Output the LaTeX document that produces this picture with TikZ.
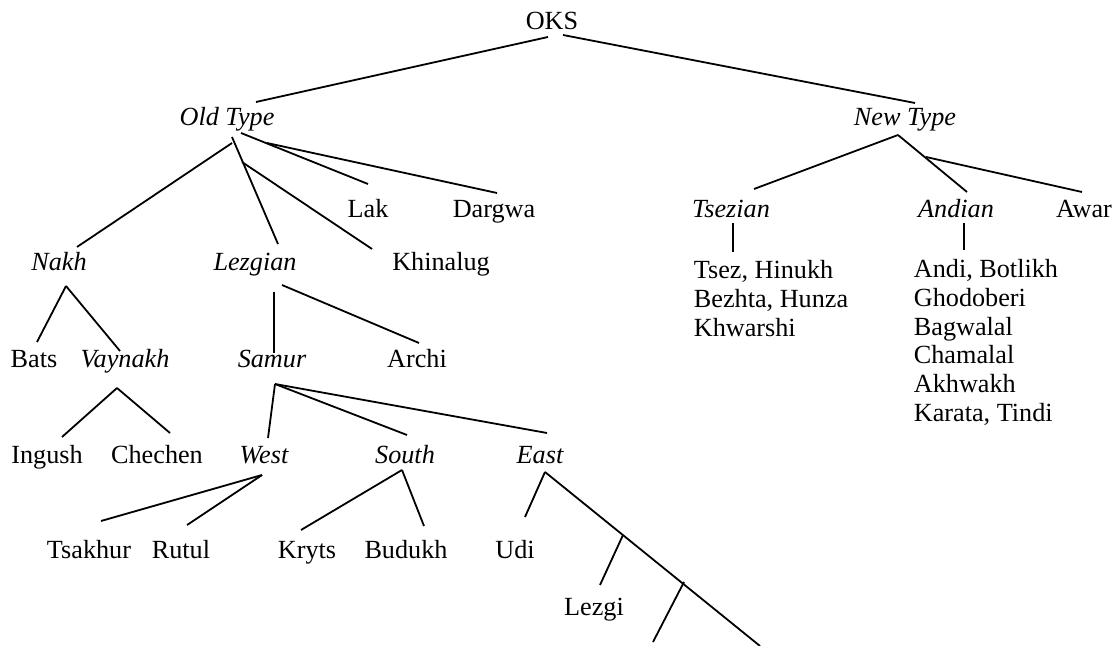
\documentclass[tikz,border=0pt]{standalone}
\usepackage{fontspec}
\setmainfont{Liberation Serif}
\usetikzlibrary{positioning}

\begin{document}
\begin{tikzpicture}[x=0.5pt, y=-0.5pt, line width=0.9pt]
				\tikzstyle{lang} = [anchor=base, inner sep=0pt, font=\fontsize{13.1}{15.4}\selectfont]
				\tikzstyle{grp} = [lang, font=\fontsize{13.1}{15.4}\selectfont\itshape]
				\tikzstyle{lst} = [anchor=base west, align=left, inner sep=0pt, font=\fontsize{13.1}{14.5}\selectfont]
				
				\useasboundingbox (0, 0) rectangle (1118, 646);
				
				% labels
				\node[lang] 	at (552, 30) 	(oks) 		{OKS};
				\node[grp] 	at (227, 126) 	(old) 		{Old Type};
				\node[grp] 	at (905, 126) 	(new) 		{New Type};
				\node[lang] 	at (368, 218) 	(lak) 		{Lak};
				\node[lang] 	at (494, 218) 	(dargwa) 	{Dargwa};
				\node[grp] 	at (731, 218) 	(tsezian) 	{Tsezian};
				\node[grp] 	at (956, 218) 	(andian) 	{Andian};
				\node[lang] 	at (1084, 218) 	(awar) 		{Awar};
				\node[grp] 	at (59, 271) 	(nakh) 		{Nakh};
				\node[grp] 	at (255, 271) 	(lezgian) 	{Lezgian};
				\node[lang] 	at (441, 271) 	(khinalug) 	{Khinalug};
				% base of a list = baseline of its last line
				\node[lst] 	at (693, 337) 	(tsezlist) 	{Tsez, Hinukh\\Bezhta, Hunza\\Khwarshi};
				\node[lst, font=\fontsize{13.1}{14.3}\selectfont] 	at (913, 421) 	(andilist) 	{Andi, Botlikh\\Ghodoberi\\Bagwalal\\Chamalal\\Akhwakh\\Karata, Tindi};
				\node[lang] 	at (34, 368) 	(bats) 		{Bats};
				\node[grp] 	at (125, 368) 	(vaynakh) 	{Vaynakh};
				\node[grp] 	at (272, 368) 	(samur) 	{Samur};
				\node[lang] 	at (417, 368) 	(archi) 	{Archi};
				\node[lang] 	at (47, 463) 	(ingush) 	{Ingush};
				\node[lang] 	at (157, 463) 	(chechen) 	{Chechen};
				\node[grp] 	at (264, 463) 	(west) 		{West};
				\node[grp] 	at (405, 463) 	(south) 	{South};
				\node[grp] 	at (540, 463) 	(east) 		{East};
				\node[lang] 	at (89, 558) 	(tsakhur) 	{Tsakhur};
				\node[lang] 	at (181, 558) 	(rutul) 	{Rutul};
				\node[lang] 	at (307, 558) 	(kryts) 	{Kryts};
				\node[lang] 	at (406, 558) 	(budukh) 	{Budukh};
				\node[lang] 	at (515, 558) 	(udi) 		{Udi};
				\node[lang] 	at (594, 615) 	(lezgi) 	{Lezgi};
				
				% branch points
				\coordinate (oksL) at (548, 37);
				\coordinate (oksR) at (563, 35);
				\coordinate (oldL) at (232, 143);
				\coordinate (oldM) at (232, 137);
				\coordinate (oldK) at (242, 162);
				\coordinate (oldR) at (241, 133);
				\coordinate (oldD) at (267, 143);
				\coordinate (newJ) at (898, 135);
				\coordinate (newA) at (926, 157);
				\coordinate (tsezV) at (733, 223);
				\coordinate (andV) at (964, 223);
				\coordinate (nakhJ) at (66, 286);
				\coordinate (lezJ) at (274, 292);
				\coordinate (lezR) at (282, 285);
				\coordinate (vayJ) at (117, 388);
				\coordinate (samJ) at (275, 384);
				\coordinate (westJ) at (262, 475);
				\coordinate (southJ) at (402, 470);
				\coordinate (eastJ) at (545, 472);
				\coordinate (eastE) at (760, 646);
				\coordinate (brA) at (623, 535);
				\coordinate (brB) at (684, 582);
				\coordinate (brB2) at (653, 642);
				
				% ends next to the labels
				\coordinate (oldT) at (256, 102);
				\coordinate (newT) at (915, 103);
				\coordinate (lakT) at (368, 184);
				\coordinate (dargT) at (497, 193);
				\coordinate (tsezT) at (754, 189);
				\coordinate (andT) at (967, 192);
				\coordinate (awarT) at (1082, 192);
				\coordinate (tsezB) at (733, 252);
				\coordinate (andB) at (964, 250);
				\coordinate (nakhT) at (77, 247);
				\coordinate (lezT) at (278, 244);
				\coordinate (khinT) at (372, 249);
				\coordinate (batsT) at (37, 342);
				\coordinate (vayT) at (120, 351);
				\coordinate (samT) at (274, 353);
				\coordinate (archT) at (419, 343);
				\coordinate (ingT) at (62, 437);
				\coordinate (cheT) at (170, 433);
				\coordinate (westT) at (268, 438);
				\coordinate (southT) at (407, 435);
				\coordinate (eastT) at (547, 433);
				\coordinate (tsakT) at (101, 521);
				\coordinate (rutT) at (187, 525);
				\coordinate (kryT) at (301, 530);
				\coordinate (budT) at (424, 526);
				\coordinate (udiT) at (525, 517);
				\coordinate (lezgiT) at (600, 585);
				
				\path[draw]
				(oksL)	edge	(oldT)
				(oksR)	edge	(newT)
				(oldL)	edge	(nakhT)
				(oldM)	edge	(lezT)
				(oldK)	edge	(khinT)
				(oldR)	edge	(lakT)
				(oldD)	edge	(dargT)
				(newJ)	edge	(tsezT)
				(newJ)	edge	(andT)
				(newA)	edge	(awarT)
				(tsezV)	edge	(tsezB)
				(andV)	edge	(andB)
				(nakhJ)	edge	(batsT)
				(nakhJ)	edge	(vayT)
				(lezJ)	edge	(samT)
				(lezR)	edge	(archT)
				(vayJ)	edge	(ingT)
				(vayJ)	edge	(cheT)
				(samJ)	edge	(westT)
				(samJ)	edge	(southT)
				(samJ)	edge	(eastT)
				(westJ)	edge	(tsakT)
				(westJ)	edge	(rutT)
				(southJ)	edge	(kryT)
				(southJ)	edge	(budT)
				(eastJ)	edge	(udiT)
				(eastJ)	edge	(eastE)
				(brA)	edge	(lezgiT)
				(brB)	edge	(brB2);
\end{tikzpicture}
\end{document}
